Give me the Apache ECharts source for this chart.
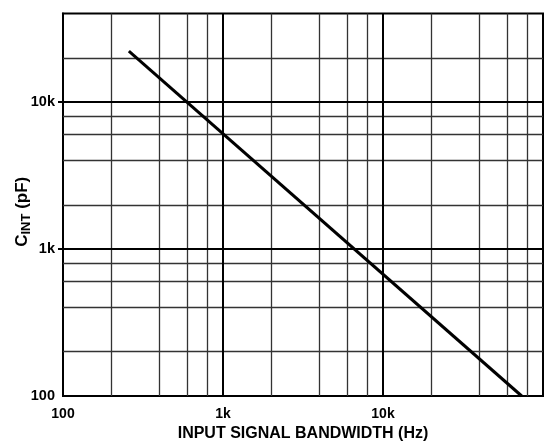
<!DOCTYPE html>
<html>
<head>
<meta charset="utf-8">
<script src="https://cdn.jsdelivr.net/npm/echarts@6/dist/echarts.min.js"></script>
<style>
html,body{margin:0;padding:0;background:#fff;}
#chart{width:546px;height:441px;}
</style>
</head>
<body>
<div id="chart"></div>
<script>
// Data
const bandwidthHz = [258, 73600];
const cintPF = [22200, 100];

// Grid line values
const xMinorGrid = [200, 400, 600, 800, 2000, 4000, 6000, 8000, 20000, 40000, 60000, 80000];
const xMajorGrid = [1000, 10000];
const yMinorGrid = [200, 400, 600, 800, 2000, 4000, 6000, 8000, 20000];
const yMajorGrid = [1000, 10000];

// Tick labels
const xTickValues = [100, 1000, 10000];
const xTickLabels = ['100', '1k', '10k'];
const yTickValues = [100, 1000, 10000];
const yTickLabels = ['100', '1k', '10k'];
const yTickMarks = [1000, 10000];

const FONT = 'Liberation Sans, Arial, sans-serif';

const chart = echarts.init(document.getElementById('chart'));

function lbl(vals, labels) {
  return function (v) {
    for (let i = 0; i < vals.length; i++) {
      if (Math.abs(v - vals[i]) / vals[i] < 1e-6) return labels[i];
    }
    return '';
  };
}

chart.setOption({
  animation: false,
  grid: {
    left: 63, right: 3, top: 13.5, bottom: 45,
    containLabel: false, outerBoundsMode: 'none',
    show: true, borderColor: '#000', borderWidth: 2, backgroundColor: '#fff'
  },
  xAxis: {
    type: 'log', logBase: 10, min: 100, max: 100000,
    name: 'INPUT SIGNAL BANDWIDTH (Hz)',
    nameLocation: 'middle', nameGap: 30, nameMoveOverlap: false,
    nameTextStyle: {fontFamily: FONT, fontWeight: 'bold', fontSize: 16, color: '#000'},
    axisLine: {show: true, lineStyle: {color: '#000', width: 2}},
    axisTick: {show: false},
    splitLine: {show: false},
    minorTick: {show: false},
    axisLabel: {
      customValues: xTickValues,
      formatter: lbl(xTickValues, xTickLabels), margin: 11,
      fontFamily: FONT, fontWeight: 'bold', fontSize: 14, color: '#000'
    }
  },
  yAxis: {
    type: 'log', logBase: 10, min: 100, max: 40000,
    name: '{c|C}{s|INT}{c| (pF)}',
    nameLocation: 'middle', nameGap: 30, nameMoveOverlap: false,
    nameTextStyle: {
      padding: [0, 14, 0, 0],
      rich: {
        c: {fontFamily: FONT, fontWeight: 'bold', fontSize: 17, color: '#000', lineHeight: 22},
        s: {fontFamily: FONT, fontWeight: 'bold', fontSize: 13, color: '#000', lineHeight: 13, verticalAlign: 'bottom'}
      }
    },
    axisLine: {show: true, lineStyle: {color: '#000', width: 2}},
    axisTick: {show: true, customValues: yTickMarks, length: 5, lineStyle: {color: '#000', width: 2}},
    splitLine: {show: false},
    minorTick: {show: false},
    axisLabel: {
      customValues: yTickValues,
      formatter: lbl(yTickValues, yTickLabels), margin: 8,
      fontFamily: FONT, fontWeight: 'bold', fontSize: 14.5, color: '#000'
    }
  },
  series: [
    {
      type: 'line', data: [], silent: true, z: 1,
      markLine: {
        silent: true, symbol: 'none', animation: false,
        label: {show: false},
        lineStyle: {color: '#333', width: 1.3, type: 'solid'},
        emphasis: {disabled: true},
        data: xMinorGrid.map(v => ({xAxis: v})).concat(yMinorGrid.map(v => ({yAxis: v})))
      }
    },
    {
      type: 'line', data: [], silent: true, z: 2,
      markLine: {
        silent: true, symbol: 'none', animation: false,
        label: {show: false},
        lineStyle: {color: '#000', width: 2, type: 'solid'},
        emphasis: {disabled: true},
        data: xMajorGrid.map(v => ({xAxis: v})).concat(yMajorGrid.map(v => ({yAxis: v})))
      }
    },
    {
      type: 'line', z: 5,
      data: bandwidthHz.map((f, i) => [f, cintPF[i]]),
      showSymbol: false, symbol: 'none',
      lineStyle: {color: '#000', width: 3},
      silent: true
    }
  ]
});
</script>
</body>
</html>
